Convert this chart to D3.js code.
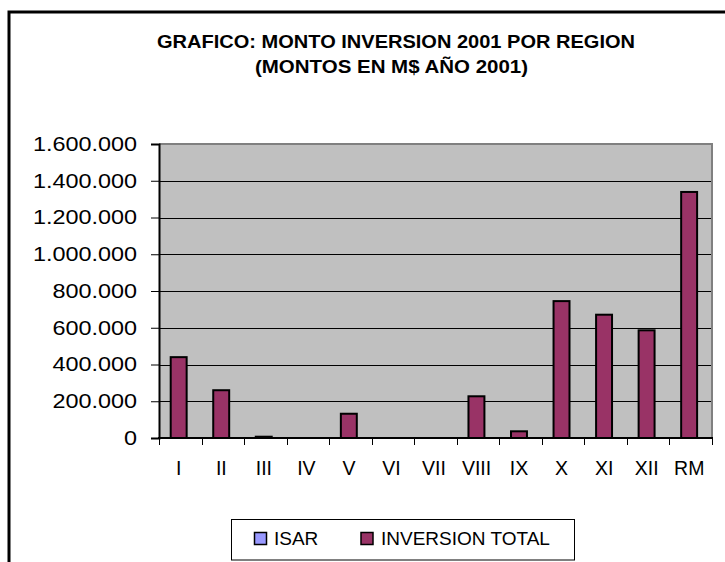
<!DOCTYPE html>
<html>
<head>
<meta charset="utf-8">
<script src="https://cdn.jsdelivr.net/npm/d3@7"></script>
<style>
html,body{margin:0;padding:0;background:#fff;}
svg{display:block;font-family:"Liberation Sans",Arial,sans-serif;}
</style>
</head>
<body>
<svg id="chart" width="725" height="562"></svg>
<script>
const titleLines = ["GRAFICO: MONTO INVERSION 2001 POR REGION", "(MONTOS EN M$ AÑO 2001)"];
const categories = ["I","II","III","IV","V","VI","VII","VIII","IX","X","XI","XII","RM"];
const seriesNames = ["ISAR","INVERSION TOTAL"];
const isar = [0,0,0,0,0,0,0,0,0,0,0,0,0];
const inversionTotal = [440000,260000,7000,0,132000,0,0,227000,36500,745000,671000,586000,1339000];
const yTicks = [0,200000,400000,600000,800000,1000000,1200000,1400000,1600000];
const seriesColors = ["#9999FF","#993366"];

const svg = d3.select("#chart");
const L = 159, R = 712, T = 144, B = 438;

// outer chart border
svg.append("rect").attr("x",9).attr("y",12).attr("width",800).attr("height",700)
  .attr("fill","#fff").attr("stroke","#000").attr("stroke-width",3);

// title
const tl = [{y:47.5,w:478,cx:396},{y:73,w:273,cx:391.5}];
titleLines.forEach((t,i)=>{
  svg.append("text").attr("x",tl[i].cx).attr("y",tl[i].y)
    .attr("text-anchor","middle").attr("font-weight","bold").attr("font-size",18)
    .attr("textLength",tl[i].w).attr("lengthAdjust","spacingAndGlyphs")
    .attr("fill","#000").text(t);
});

const x = d3.scaleBand().domain(categories).range([L,R]).padding(0);
const y = d3.scaleLinear().domain([0,1600000]).range([B,T]);
const loc = d3.formatLocale({decimal:",",thousands:".",grouping:[3],currency:["$",""]});
const fmt = loc.format(",");

// plot area
svg.append("rect").attr("x",L).attr("y",T).attr("width",R-L).attr("height",B-T).attr("fill","#C0C0C0");
// gridlines
svg.append("g").selectAll("line").data(yTicks.filter(v=>v>0 && v<1600000)).join("line")
  .attr("x1",L).attr("x2",R).attr("y1",d=>Math.round(y(d))+0.5).attr("y2",d=>Math.round(y(d))+0.5)
  .attr("stroke","#000").attr("stroke-width",1);
// top/right frame
svg.append("line").attr("x1",L).attr("x2",R+1).attr("y1",T).attr("y2",T).attr("stroke","#808080").attr("stroke-width",2);
svg.append("line").attr("x1",R).attr("x2",R).attr("y1",T).attr("y2",B).attr("stroke","#808080").attr("stroke-width",2);

// bars
const step = x.step();
const barData = categories.map((c,i)=>({c, v:inversionTotal[i], isar:isar[i]}));
svg.append("g").selectAll("rect").data(barData.filter(d=>d.v>0)).join("rect")
  .attr("x",d=>x(d.c)+step*0.275).attr("width",step*0.375)
  .attr("y",d=>y(d.v)).attr("height",d=>B-y(d.v))
  .attr("fill",seriesColors[1]).attr("stroke","#000").attr("stroke-width",2);

// y axis
const yAxis = svg.append("g").attr("transform",`translate(${L},0)`)
  .call(d3.axisLeft(y).tickValues(yTicks).tickFormat(fmt).tickSize(8).tickPadding(14));
yAxis.select(".domain").attr("stroke","#000").attr("stroke-width",2);
yAxis.selectAll(".tick line").attr("stroke","#000");
yAxis.selectAll("text").attr("font-size",19.5).attr("fill","#000")
  .attr("font-family","'Liberation Sans',Arial,sans-serif")
  .each(function(){ const w=this.getComputedTextLength(); d3.select(this).attr("textLength",w*1.2).attr("lengthAdjust","spacingAndGlyphs"); });

// x axis baseline + boundary ticks
svg.append("line").attr("x1",L-1).attr("x2",R+1).attr("y1",B).attr("y2",B).attr("stroke","#000").attr("stroke-width",2);
const bounds = categories.map(c=>x(c)).concat([R]);
svg.append("g").selectAll("line").data(bounds).join("line")
  .attr("x1",d=>Math.round(d)+0.5).attr("x2",d=>Math.round(d)+0.5).attr("y1",B).attr("y2",B+7)
  .attr("stroke","#000").attr("stroke-width",1);
const xAxis = svg.append("g").attr("transform",`translate(0,${B})`)
  .call(d3.axisBottom(x).tickSize(0).tickPadding(23));
xAxis.select(".domain").remove();
xAxis.selectAll("text").attr("font-size",19.5).attr("fill","#000")
  .attr("font-family","'Liberation Sans',Arial,sans-serif")
  .attr("transform","translate(-1.5,0)");

// legend
svg.append("rect").attr("x",231.5).attr("y",519.5).attr("width",343).attr("height",40.5)
  .attr("fill","#fff").attr("stroke","#000").attr("stroke-width",1);
const leg = [{sx:254.5,tx:274},{sx:361,tx:381}];
seriesNames.forEach((n,i)=>{
  svg.append("rect").attr("x",leg[i].sx).attr("y",532.5).attr("width",12).attr("height",12)
    .attr("fill",seriesColors[i]).attr("stroke","#000").attr("stroke-width",1.5);
  svg.append("text").attr("x",leg[i].tx).attr("y",545).attr("font-size",19).attr("fill","#000").text(n);
});
</script>
</body>
</html>
